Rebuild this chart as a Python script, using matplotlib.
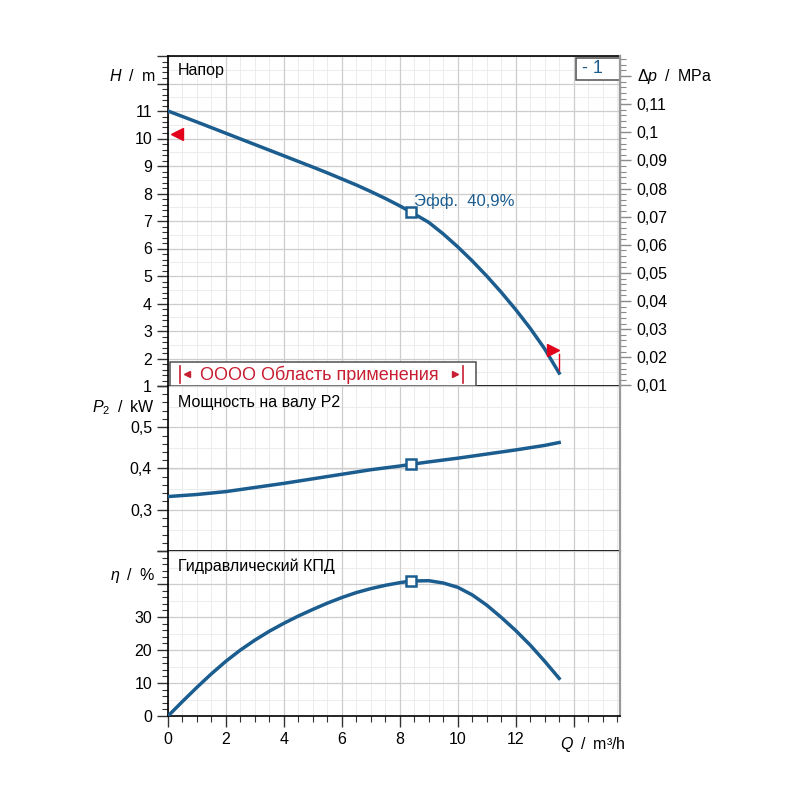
import numpy as np
import matplotlib
matplotlib.use("Agg")
import matplotlib.pyplot as plt
from matplotlib.ticker import FixedLocator, MultipleLocator, FuncFormatter
from matplotlib.patches import Rectangle

plt.rcParams['font.family'] = ['Liberation Sans', 'DejaVu Sans']
plt.rcParams['mathtext.fontset'] = 'custom'
plt.rcParams['mathtext.rm'] = 'Liberation Sans'
plt.rcParams['mathtext.it'] = 'Liberation Sans:italic'

# --- data ---
q_head = [0, 1, 2, 3, 4, 5, 5.5, 6, 6.5, 7, 7.5, 8, 8.38, 9, 9.5, 10, 10.5,
          11, 11.5, 12, 12.5, 13, 13.5]
head = [11.0, 10.6, 10.19, 9.78, 9.37, 8.96, 8.75, 8.53, 8.31, 8.07, 7.82,
        7.55, 7.33, 6.95, 6.53, 6.06, 5.55, 5.0, 4.41, 3.78, 3.10, 2.35, 1.47]

q_power = [0, 1, 2, 3, 4, 5, 6, 7, 8, 8.38, 9, 10, 11, 12, 13, 13.5]
power = [0.332, 0.337, 0.344, 0.354, 0.364, 0.375, 0.386, 0.397, 0.406, 0.41,
         0.416, 0.425, 0.435, 0.445, 0.456, 0.463]

q_eff = [0, 0.5, 1, 1.5, 2, 2.5, 3, 3.5, 4, 4.5, 5, 5.5, 6, 6.5, 7, 7.5, 8,
         8.38, 9, 9.5, 10, 10.5, 11, 11.5, 12, 12.5, 13, 13.5]
eff = [0, 4.4, 8.7, 12.8, 16.6, 20.0, 23.0, 25.7, 28.1, 30.3, 32.3, 34.2,
       35.9, 37.4, 38.6, 39.6, 40.4, 40.9, 41.0, 40.3, 39.0, 36.7, 33.6, 29.9,
       25.9, 21.5, 16.6, 11.4]

q_duty = 8.38
h_duty = 7.33
p_duty = 0.41
eff_duty = 40.9

# application range markers
range_lo = 0.41
range_hi = 10.17
tri_left = (0.3, 10.16)
tri_right = (13.28, 2.31)
q_end = 13.49

mpa_per_m = 0.00978

curve_col = '#1c5d8f'
red = '#e3001b'
txt_red = '#c81e32'
grid_major = '#cdcdcd'
grid_minor = '#ececec'
fs = 11.5
sp = '\u2002'


def comma_fmt(shown):
    def f(v, pos):
        if not any(abs(v - s) < 1e-9 for s in shown):
            return ''
        return f"{v:g}".replace('.', ',')
    return FuncFormatter(f)


def style_panel(ax, ylo, yhi, step, minor, shown, fine):
    ax.set_xlim(0, 15.6)
    ax.set_ylim(ylo, yhi)
    ax.yaxis.set_major_locator(FixedLocator(np.arange(ylo, yhi + step / 2, step)))
    ax.yaxis.set_minor_locator(MultipleLocator(minor))
    ax.yaxis.set_major_formatter(comma_fmt(shown))
    ax.xaxis.set_major_locator(MultipleLocator(2))
    ax.xaxis.set_minor_locator(MultipleLocator(0.5))
    # light grid
    for y in np.arange(ylo, yhi, fine):
        ax.axhline(y, color=grid_minor, lw=0.7, zorder=0)
    ax.grid(which='minor', axis='x', color=grid_minor, lw=0.7, zorder=0)
    ax.grid(which='major', color=grid_major, lw=0.9, zorder=0)
    ax.set_axisbelow(True)
    ax.tick_params(axis='y', which='major', direction='out', length=8, width=1,
                   labelsize=fs, color='#333333')
    ax.tick_params(axis='y', which='minor', direction='out', length=4.5, width=0.8,
                   color='#333333')
    for s in ['left', 'bottom', 'top']:
        ax.spines[s].set_color('black')
        ax.spines[s].set_linewidth(1.2)
    ax.spines['right'].set_color('#9a9a9a')
    ax.spines['right'].set_linewidth(1.6)


fig = plt.figure(figsize=(8, 8), dpi=100)
x0, w = 0.21, 0.565
ax_h = fig.add_axes([x0, 0.5175, w, 0.4125])
ax_p = fig.add_axes([x0, 0.31125, w, 0.20625])
ax_e = fig.add_axes([x0, 0.105, w, 0.20625])

style_panel(ax_h, 1, 13, 1, 0.2, range(1, 12), 0.5)
style_panel(ax_p, 0.2, 0.6, 0.1, 0.02, [0.3, 0.4, 0.5], 0.05)
style_panel(ax_e, 0, 50, 10, 2, [0, 10, 20, 30], 5)

for ax in (ax_h, ax_p):
    ax.tick_params(axis='x', which='both', bottom=False, labelbottom=False)
ax_p.spines['top'].set_visible(False)
ax_e.spines['top'].set_visible(False)
ax_e.tick_params(axis='x', which='major', direction='out', length=8, width=1,
                 labelsize=fs, color='#333333')
ax_e.tick_params(axis='x', which='minor', direction='out', length=4.5, width=0.8,
                 color='#333333')
ax_e.xaxis.set_major_formatter(comma_fmt(range(0, 13, 2)))

# pressure axis on the right of the head panel
ax_dp = ax_h.twinx()
ax_dp.set_ylim(1 * mpa_per_m, 13 * mpa_per_m)
ax_dp.yaxis.set_major_locator(FixedLocator(np.arange(0.01, 0.125, 0.01)))
ax_dp.yaxis.set_minor_locator(MultipleLocator(0.002))
ax_dp.yaxis.set_major_formatter(comma_fmt(np.arange(0.01, 0.115, 0.01)))
ax_dp.tick_params(axis='y', which='major', direction='out', length=8, width=1,
                  labelsize=fs, color='#8a8a8a')
ax_dp.tick_params(axis='y', which='minor', direction='out', length=4.5, width=0.8,
                  color='#8a8a8a')
for s in ['left', 'top', 'bottom']:
    ax_dp.spines[s].set_visible(False)
ax_dp.spines['right'].set_color('#9a9a9a')
ax_dp.spines['right'].set_linewidth(1.6)

# curves
ax_h.plot(q_head, head, color=curve_col, lw=2.5, zorder=4)
ax_p.plot(q_power, power, color=curve_col, lw=2.5, zorder=4)
ax_e.plot(q_eff, eff, color=curve_col, lw=2.5, zorder=4)
mk = dict(marker='s', ms=7, mfc='white', mec=curve_col, mew=1.8, zorder=5)
ax_h.plot([q_duty], [h_duty], **mk)
ax_p.plot([q_duty], [p_duty], **mk)
ax_e.plot([q_duty], [eff_duty], **mk)
ax_h.text(q_duty + 0.1, h_duty + 0.12, 'Эфф.  ' + f"{eff_duty}".replace('.', ',') + '%',
          color=curve_col, fontsize=12, ha='left', va='bottom', zorder=6)

# red range markers on the head curve
ax_h.plot([tri_left[0]], [tri_left[1]], marker='<', ms=9, color=red, mec=red, zorder=6)
ax_h.plot([tri_right[0]], [tri_right[1]], marker='>', ms=9, color=red, mec=red, zorder=6)
ax_h.plot([q_end, q_end], [1.6, 2.15], color=red, lw=1, zorder=6)

# application range box
ax_h.add_patch(Rectangle((0.07, 1.0), 10.55, 0.88, facecolor='white',
                         edgecolor='#505050', lw=1.1, zorder=3))
ax_h.plot([range_lo, range_lo], [1.12, 1.72], color=txt_red, lw=1.2, zorder=4)
ax_h.plot([range_hi, range_hi], [1.12, 1.72], color=txt_red, lw=1.2, zorder=4)
ax_h.plot([range_lo + 0.25], [1.42], marker='<', ms=5, color=txt_red, zorder=4)
ax_h.plot([range_hi - 0.25], [1.42], marker='>', ms=5, color=txt_red, zorder=4)
ax_h.text((range_lo + range_hi) / 2 - 0.08, 1.42, 'ОООО Область применения',
          color=txt_red, fontsize=13, ha='center', va='center', zorder=4)

# curve number box
ax_h.add_patch(Rectangle((0.903, 0.927), 0.097, 0.067, transform=ax_h.transAxes,
                         facecolor='white', edgecolor='#505050', lw=1.1, zorder=6))
ax_h.text(0.915, 0.961, '- 1', transform=ax_h.transAxes, color=curve_col,
          fontsize=13, ha='left', va='center', zorder=7)

# panel titles
ax_h.text(0.022, 0.955, 'Напор', transform=ax_h.transAxes, fontsize=fs,
          ha='left', va='center')
ax_p.text(0.022, 0.9, 'Мощность на валу P2', transform=ax_p.transAxes,
          fontsize=fs, ha='left', va='center')
ax_e.text(0.022, 0.91, 'Гидравлический КПД', transform=ax_e.transAxes,
          fontsize=fs, ha='left', va='center')

# axis labels
fig.text(0.194, 0.905, '$H$' + sp + '/' + sp + 'm', fontsize=fs, ha='right', va='center')
fig.text(0.796, 0.905, '$\\Delta p$' + sp + '/' + sp + 'MPa', fontsize=fs,
         ha='left', va='center')
fig.text(0.194, 0.491, '$P_2$' + sp + '/' + sp + 'kW', fontsize=fs, ha='right', va='center')
fig.text(0.194, 0.281, '$\\eta$' + sp + '/' + sp + '%', fontsize=fs, ha='right', va='center')
fig.text(0.700, 0.069, '$Q$' + sp + '/' + sp + 'm³/h', fontsize=fs, ha='left', va='center')

fig.savefig('out.png', dpi=100)
